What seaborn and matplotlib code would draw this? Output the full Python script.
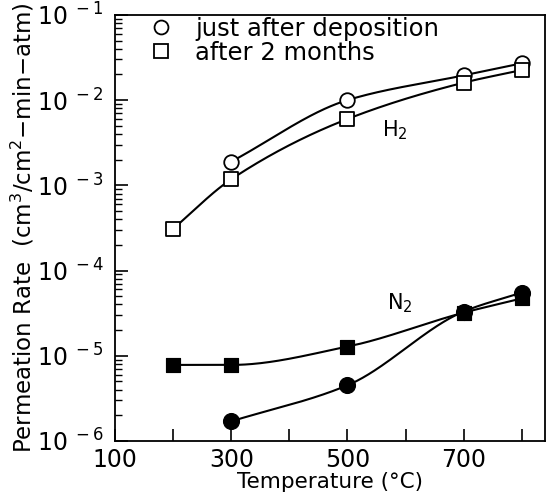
import numpy as np
import pandas as pd
import matplotlib
matplotlib.use("Agg")
import matplotlib.pyplot as plt
import seaborn as sns
from matplotlib.ticker import FixedLocator, LogLocator, FuncFormatter, NullFormatter
from matplotlib.lines import Line2D

# ---- data ----
temp_h2_new = [300, 500, 700, 800]
rate_h2_new = [1.9e-3, 1.0e-2, 1.95e-2, 2.7e-2]
temp_h2_old = [200, 300, 500, 700, 800]
rate_h2_old = [3.1e-4, 1.18e-3, 6.0e-3, 1.6e-2, 2.25e-2]
temp_n2_new = [300, 500, 700, 800]
rate_n2_new = [1.7e-6, 4.5e-6, 3.3e-5, 5.5e-5]
temp_n2_old = [200, 300, 500, 700, 800]
rate_n2_old = [7.8e-6, 7.8e-6, 1.28e-5, 3.2e-5, 4.7e-5]

legend_labels = ["just after deposition", "after 2 months"]
x_major = [100, 300, 500, 700]
x_all_ticks = [100, 200, 300, 400, 500, 600, 700, 800]

sns.set_style("ticks")
plt.rcParams['font.family'] = ['DejaVu Sans']
plt.rcParams['mathtext.fontset'] = 'dejavusans'
for k in ["text.color", "axes.labelcolor", "xtick.color", "ytick.color", "axes.edgecolor"]:
    plt.rcParams[k] = "black"


def pchip(x, y, n=200):
    """Monotone cubic (PCHIP) curve through points, in log10 space."""
    x = np.asarray(x, float)
    y = np.log10(np.asarray(y, float))
    h = np.diff(x)
    d = np.diff(y) / h
    m = np.zeros_like(y)
    for k in range(1, len(x) - 1):
        if d[k - 1] * d[k] <= 0:
            m[k] = 0
        else:
            w1 = 2 * h[k] + h[k - 1]
            w2 = h[k] + 2 * h[k - 1]
            m[k] = (w1 + w2) / (w1 / d[k - 1] + w2 / d[k])
    m[0] = d[0]
    m[-1] = d[-1]
    xs = np.linspace(x[0], x[-1], n)
    idx = np.clip(np.searchsorted(x, xs) - 1, 0, len(x) - 2)
    t = (xs - x[idx]) / h[idx]
    h00 = 2 * t**3 - 3 * t**2 + 1
    h10 = t**3 - 2 * t**2 + t
    h01 = -2 * t**3 + 3 * t**2
    h11 = t**3 - t**2
    ys = h00 * y[idx] + h10 * h[idx] * m[idx] + h01 * y[idx + 1] + h11 * h[idx] * m[idx + 1]
    return pd.DataFrame({"T": xs, "R": 10**ys})


fig = plt.figure(figsize=(5.46, 4.96), dpi=100)
ax = fig.add_axes([0.211, 0.111, 0.787, 0.859])
ax.set_yscale("log")

for tx, ry in [(temp_h2_new, rate_h2_new), (temp_h2_old, rate_h2_old),
               (temp_n2_new, rate_n2_new), (temp_n2_old, rate_n2_old)]:
    sns.lineplot(data=pchip(tx, ry), x="T", y="R", ax=ax, color="black",
                 lw=1.5, zorder=2, estimator=None, sort=False)

ms = 110
sns.scatterplot(x=temp_h2_new, y=rate_h2_new, ax=ax, marker="o", s=ms,
                facecolor="white", edgecolor="black", linewidth=1.3, zorder=3)
sns.scatterplot(x=temp_h2_old, y=rate_h2_old, ax=ax, marker="s", s=ms,
                facecolor="white", edgecolor="black", linewidth=1.3, zorder=3)
sns.scatterplot(x=temp_n2_new, y=rate_n2_new, ax=ax, marker="o", s=ms + 20,
                color="black", edgecolor="black", zorder=3)
sns.scatterplot(x=temp_n2_old, y=rate_n2_old, ax=ax, marker="s", s=ms,
                color="black", edgecolor="black", zorder=3)

ax.set_xlim(100, 840)
ax.set_ylim(1e-6, 1e-1)

ax.xaxis.set_major_locator(FixedLocator(x_all_ticks))
ax.xaxis.set_major_formatter(FuncFormatter(lambda v, p: f"{int(v)}" if int(v) in x_major else ""))
ax.yaxis.set_major_locator(LogLocator(base=10, numticks=10))
ax.yaxis.set_minor_locator(LogLocator(base=10, subs=np.arange(2, 10), numticks=20))
ax.yaxis.set_minor_formatter(NullFormatter())
ax.yaxis.set_major_formatter(FuncFormatter(lambda v, p: r"$10^{\ %d}$" % int(round(np.log10(v)))))

ax.tick_params(axis="both", which="major", direction="in", length=9, width=1.2,
               labelsize=17, colors="black")
ax.tick_params(axis="y", which="minor", direction="in", length=5, width=1.0)
ax.tick_params(axis="x", pad=5)
ax.tick_params(axis="y", pad=8)
for s in ax.spines.values():
    s.set_linewidth(1.3)
    s.set_color("black")

ax.set_xlabel("Temperature (°C)", fontsize=15.5, labelpad=0)
ax.set_ylabel(r"Permeation Rate  (cm$^3$/cm$^2$$-$min$-$atm)", fontsize=16.5, labelpad=0)

h1 = Line2D([], [], marker="o", ls="none", mfc="white", mec="black", ms=10, mew=1.3)
h2 = Line2D([], [], marker="s", ls="none", mfc="white", mec="black", ms=9.5, mew=1.3)
ax.legend([h1, h2], legend_labels, loc="upper left", bbox_to_anchor=(0.05, 1.018),
          frameon=False, fontsize=17.5, handletextpad=0.8, labelspacing=0.0,
          handlelength=1.2, borderaxespad=0)

ax.text(560, 4.4e-3, r"H$_2$", fontsize=15, ha="left", va="center")
ax.text(568, 4.1e-5, r"N$_2$", fontsize=15, ha="left", va="center")

fig.savefig("out.png", dpi=100)
